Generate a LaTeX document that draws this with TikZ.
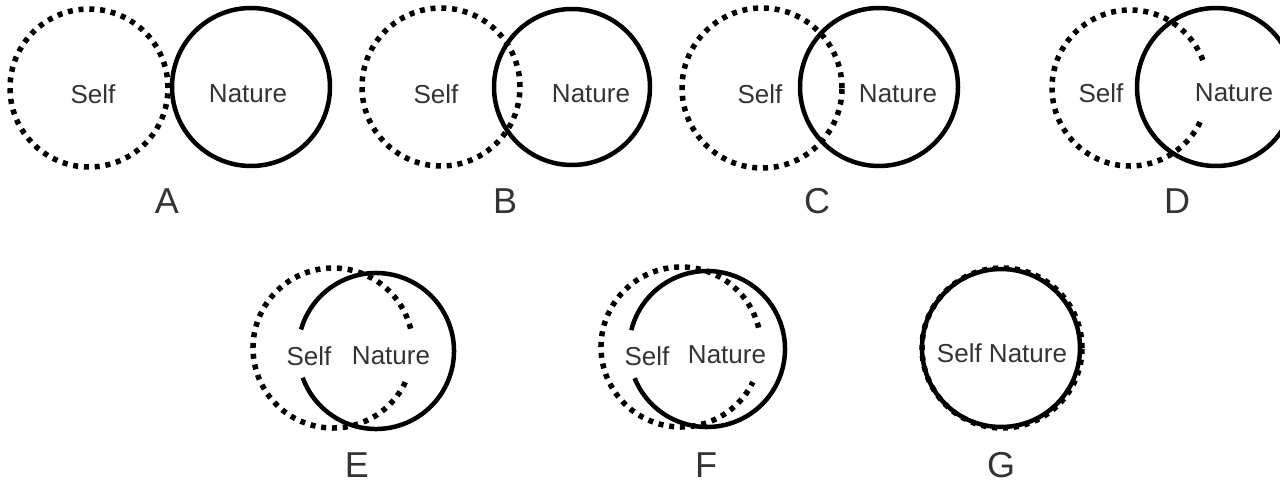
\documentclass[tikz,border=0pt]{standalone}
\usepackage{fontspec}
\setmainfont{Liberation Sans}
\definecolor{txt}{HTML}{333333}
\tikzset{
  x=1pt,y=1pt,
  solidring/.style={line width=4.5pt,draw=black},
  dotring/.style={line width=5.5pt,draw=black,dash pattern=on 5pt off 5.8pt},
  word/.style={font=\fontsize{26}{29}\selectfont,text=txt,inner sep=0pt},
  tag/.style={font=\fontsize{36}{40}\selectfont,text=txt,inner sep=0pt}
}
\begin{document}
\begin{tikzpicture}
\useasboundingbox (0,0) rectangle (1280,-489);
\begin{scope}
\clip (0,0) rectangle (1280,-489);
% A
\draw[dotring] (89,-88) circle[radius=79];
\draw[solidring] (251,-87) circle[radius=79];
% B
\draw[dotring] (441,-87) circle[radius=79];
\draw[solidring] (572,-87) circle[radius=78];
% C
\draw[dotring] (762,-88) circle[radius=80];
\draw[solidring] (879,-87) circle[radius=79];
% D
\draw[dotring] (1130,-88) ++(21:78) arc[start angle=21,end angle=337,radius=78];
\draw[solidring] (1216,-87) circle[radius=79];
% E
\draw[dotring] (333,-348) ++(14:80) arc[start angle=14,end angle=336,radius=80];
\draw[solidring] (376,-351) ++(200:78) arc[start angle=200,end angle=524,radius=78];
% F
\draw[dotring] (681,-347) ++(14:80) arc[start angle=14,end angle=334,radius=80];
\draw[solidring] (707,-349) ++(202:78) arc[start angle=202,end angle=526,radius=78];
% G
\draw[solidring] (1001,-348) circle[radius=79];
\draw[dotring] (1002,-348) circle[radius=80];
\end{scope}
% texts
\node[word] (sA) at (93,-94) {Self};
\node[word] (nA) at (248,-94) {Nature};
\node[word] (sB) at (436,-94) {Self};
\node[word] (nB) at (591,-94) {Nature};
\node[word] (sC) at (760,-94) {Self};
\node[word] (nC) at (898,-94) {Nature};
\node[word] (sD) at (1101,-93) {Self};
\node[word] (nD) at (1234,-93) {Nature};
\node[word] (sE) at (309,-356) {Self};
\node[word] (nE) at (391,-356) {Nature};
\node[word] (sF) at (647,-356) {Self};
\node[word] (nF) at (727,-355) {Nature};
\node[word] (sG) at (1002,-353) {Self Nature};
% labels
\node[tag] (lA) at (167,-201) {A};
\node[tag] (lB) at (505,-201) {B};
\node[tag] (lC) at (817,-201) {C};
\node[tag] (lD) at (1177,-201) {D};
\node[tag] (lE) at (357,-465) {E};
\node[tag] (lF) at (706,-465) {F};
\node[tag] (lG) at (1001,-465) {G};
\end{tikzpicture}
\end{document}
